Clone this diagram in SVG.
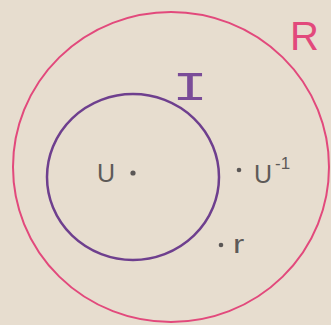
<svg xmlns="http://www.w3.org/2000/svg" width="331" height="325" viewBox="0 0 331 325">
<style>
.lbl{font-family:"Liberation Sans",Arial,sans-serif;fill:#5e5a58}
.dot{fill:#5b5756}
</style>
<rect width="331" height="325" fill="#e7ddcf"/>
<g id="R">
<ellipse cx="171" cy="167" rx="158" ry="155" fill="none" stroke="#e2497c" stroke-width="2"/>
<text x="290" y="50" font-family="Liberation Sans, Arial, sans-serif" font-size="40" fill="#e2497c">R</text>
</g>
<g id="I">
<ellipse cx="133" cy="177" rx="86" ry="83" fill="none" stroke="#6e3f8e" stroke-width="2.5"/>
<text x="190" y="100" text-anchor="middle" font-family="Liberation Mono, Courier New, monospace" font-size="40" fill="#7a4c98" transform="translate(190 0) scale(1.5 1) translate(-190 0)">I</text>
</g>
<g id="U">
<text class="lbl" x="97" y="182" font-size="25">U</text>
<circle class="dot" cx="133" cy="173" r="2.6"/>
</g>
<g id="Uinv">
<circle class="dot" cx="239" cy="170" r="2.3"/>
<text class="lbl" x="254" y="183" font-size="25">U<tspan font-size="17" dx="3" dy="-14">-1</tspan></text>
</g>
<g id="r">
<circle class="dot" cx="221" cy="245" r="2.3"/>
<text class="lbl" x="233" y="253" font-size="26" transform="translate(233 0) scale(1.3 1) translate(-233 0)">r</text>
</g>
<g id="connectors"/>
</svg>
